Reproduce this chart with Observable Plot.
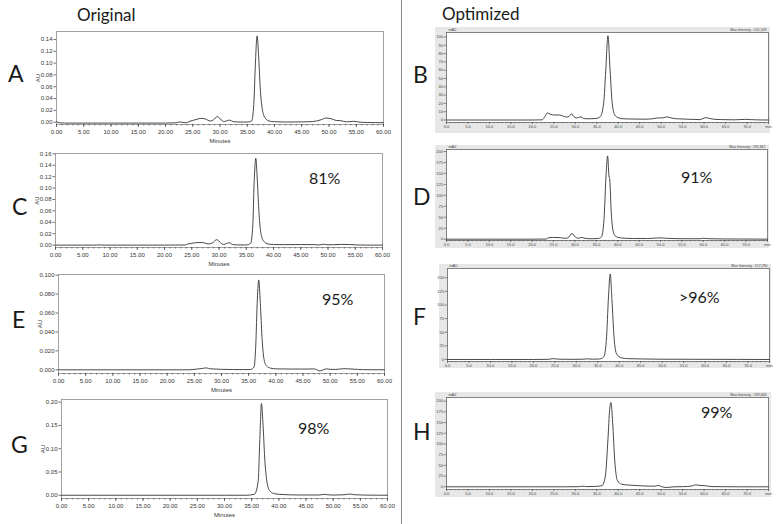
<!DOCTYPE html>
<html><head><meta charset="utf-8">
<script src="https://cdn.jsdelivr.net/npm/d3@7"></script>
<script src="https://cdn.jsdelivr.net/npm/@observablehq/plot@0.6"></script>
<style>
body{margin:0;background:#fff;}
#root{position:relative;width:780px;height:524px;overflow:hidden;background:#fff;}
#root svg{position:absolute;}
</style></head><body><div id="root"></div>
<script>
// ---- tick labels ----
const xTicksLeft = [0,5,10,15,20,25,30,35,40,45,50,55,60];
const xTicksRight = [0,5,10,15,20,25,30,35,40,45,50,55,60,65,70,75];
const xLabelsRight = ["0.0","5.0","10.0","15.0","20.0","25.0","30.0","35.0","40.0","45.0","50.0","55.0","60.0","65.0","70.0","min"];
const yTicksA = [0,0.02,0.04,0.06,0.08,0.10,0.12,0.14];
const yTicksC = [0,0.02,0.04,0.06,0.08,0.10,0.12,0.14,0.16];
const yTicksE = [0,0.02,0.04,0.06,0.08,0.10];
const yTicksG = [0,0.05,0.10,0.15,0.20];
const yTicksB = [0,10,20,30,40,50,60,70,80,90,100];
const yTicksD = [0,25,50,75,100,125,150,175,200];
const yTicksF = [0,25,50,75,100,125,150];
const yTicksH = [0,25,50,75,100,125,150,175,200];
const panelLetters = ["A","B","C","D","E","F","G","H"];
const purities = ["81%","91%","95%",">96%","98%","99%"];
const maxIntensity = ["Max Intensity : 101,549","Max Intensity : 192,667","Max Intensity : 157,290","Max Intensity : 199,606"];

// ---- traces (minutes, AU) : Original ----
const timeA = [0,0.5,1.5,5,10,15,20,22,22.6,23.2,23.8,24.3,25,25.8,26.5,27.3,28.2,28.8,29.5,30.2,30.8,31.3,31.8,32.4,33,34,35,35.8,36.2,36.5,36.8,37.1,37.4,37.8,38.3,39,40,42,45,47,48.5,49.5,50.5,51.3,52.2,53.2,54.5,55.5,57,60];
const auA   = [0.001,-0.001,-0.0015,-0.0015,-0.0015,-0.0015,-0.0015,-0.001,0.0005,-0.0005,-0.001,0.001,0.003,0.005,0.0065,0.0055,0.002,0.004,0.0095,0.004,0.001,0.0025,0.0035,0.001,0.0005,0.0002,0.0003,0.002,0.03,0.10,0.146,0.11,0.055,0.02,0.007,0.002,0.0008,0.0003,0.0005,0.001,0.004,0.007,0.0055,0.003,0.0025,0.0005,0.0015,0.0002,-0.0005,-0.0008];
const timeC = [0,5,7.5,8,8.5,10,15,20,23.8,24.3,25,26,27,28,28.8,29.6,30.3,30.9,31.4,31.9,32.5,33.5,35,35.8,36.2,36.45,36.75,37.05,37.35,37.7,38.2,39,40,42,45,47.5,48.3,49.2,50,51,52.5,54,55.5,57,60];
const auC   = [0,0,0,0.0005,0,0,0,0,0.0002,0.002,0.003,0.0045,0.0045,0.002,0.004,0.0095,0.004,0.001,0.003,0.004,0.001,0.0003,0.0003,0.003,0.035,0.11,0.152,0.11,0.055,0.02,0.007,0.002,0.001,0.0008,0.001,0.0008,0.0003,0.0015,0.0005,0.0008,0.0012,0.001,0.0002,0,0];
const timeE = [0,10,20,24,25.5,26.5,27.2,28,29,30,32,34,35.3,36.0,36.3,36.6,36.85,37.15,37.45,37.8,38.3,39,40,43,46,46.8,47.5,48.0,48.5,49.3,50,51,52.5,54,56,60];
const auE   = [0,0,0,0,0.0008,0.0015,0.002,0.001,0.0008,0.0005,0.0003,0.0002,0.0003,0.003,0.025,0.075,0.095,0.07,0.035,0.012,0.004,0.0018,0.001,0.0008,0.0008,0.001,0.0003,-0.0012,-0.0005,0.001,0.0005,0.0004,0.0012,0.0008,0.0002,0];
const timeG = [0,10,20,30,34,35.5,36.2,36.5,36.8,37.1,37.4,37.8,38.3,39,40,44,47.5,48.3,49,50,52,53,54,56,60];
const auG   = [0,0,0,0,0,0.002,0.03,0.12,0.197,0.15,0.08,0.03,0.01,0.004,0.002,0.0005,0.0005,0.002,0.001,0.0003,0.001,0.0025,0.001,0.0003,0];

// ---- traces (min, mAU) : Optimized ----
const timeB = [0,10,20,22.3,22.9,23.5,24.2,25.2,26.3,27.3,28.0,28.6,29.1,29.7,30.3,30.8,31.3,31.9,32.6,33.5,34.8,35.8,36.6,37.1,37.6,38.1,38.6,39.2,39.9,41,43,46,48,49.1,50.3,51.4,52.3,53.5,55,57,59,60.4,61.2,62.5,64,67,69.7,70.8,72,75];
const mauB  = [0,0,0,0.2,4,8.5,7,6,6,4.5,3.5,4.5,7.5,4,2.5,3,3.8,2,1.5,1.5,1.8,4,20,60,101.5,60,20,6,3,1.5,1.2,1,1.5,2.5,2.5,3.8,2.5,1.5,1.2,0.8,0.5,2.8,2,0.8,0.5,0.2,0.8,0.5,0.2,0];
const timeD = [0,10,20,23.3,23.9,24.8,26.6,27.4,28.3,29.3,30.1,30.8,31.6,32.4,34,35.4,36.2,36.8,37.3,37.65,37.95,38.15,38.5,38.9,39.5,40.6,43.7,47,49.9,51.4,54,57,59.2,60,61.5,65,70,75];
const mauD  = [0,0,0,0.3,3.5,4,3.5,2.2,2.5,13,5,2,4,2,1,1.5,5,45,150,190,145,135,60,20,7,3,1.5,1.5,3,2,1.2,1,1,2,1,0.5,0.3,0];
const timeF = [0,10,20,23.5,24.7,26,29,31.5,32.6,33.8,35.5,36.4,37.0,37.5,37.9,38.3,38.8,39.4,40.5,42,45,50,60,75];
const mauF  = [0,0,0,0.3,1.5,0.5,0.3,0.5,1.2,0.5,1,5,35,115,157,110,40,10,3,1.5,1,0.5,0.3,0];
const timeH = [0,10,20,28,30.8,31.7,32.6,34.5,36.2,37.0,37.6,38.0,38.3,38.7,39.2,39.8,40.8,42.5,45,47.5,48.6,49.3,50.1,50.9,51.8,53,55,57.2,58,58.8,60.7,61.6,64,68,75];
const mauH  = [0,0,0,0,0.3,1.5,0.5,0.8,2.5,25,110,180,197,150,60,15,6,4,2.5,1.5,1.5,3.2,0.5,-1.5,-1.2,0,0.3,2,4.5,3.5,2,0.5,0.3,0,0];

const root = document.getElementById("root");
const traceColor = "#333";

function rows(t, v) { return t.map((x, i) => ({t: x, v: v[i]})); }

function leftPanel(t, v, cfg) {
  const [pl, pr, pt, pb] = cfg.plot;
  const W = 400, top = pt - 12, bottom = pb + 26;
  const svg = Plot.plot({
    width: W, height: bottom - top,
    marginLeft: pl, marginRight: W - pr, marginTop: pt - top, marginBottom: bottom - pb,
    style: {fontFamily: "'Liberation Sans', Arial, sans-serif", fontSize: "6px", color: "#333", overflow: "visible", background: "transparent"},
    x: {domain: [0, 60]},
    y: {domain: cfg.yDomain},
    marks: [
      Plot.frame({stroke: "#8a8a8a", strokeWidth: 0.8}),
      Plot.axisX({ticks: d3.range(0, 61, 1), tickSize: 1.5, tickFormat: () => "", label: null, strokeWidth: 0.6}),
      Plot.axisX({ticks: xTicksLeft, tickSize: 3, tickPadding: 2, tickFormat: d => d.toFixed(2), label: null, fontSize: 6, strokeWidth: 0.7}),
      Plot.axisY({ticks: cfg.yTicks, tickSize: 2.5, tickPadding: 1.5, tickFormat: d => d.toFixed(cfg.dec), label: null, fontSize: 6, strokeWidth: 0.7}),
      Plot.text(["Minutes"], {text: d => d, frameAnchor: "bottom", dy: 17, fontSize: 6, lineAnchor: "middle", textAnchor: "middle"}),
      Plot.text(["AU"], {text: d => d, frameAnchor: "left", dx: -18, rotate: -90, fontSize: 6, lineAnchor: "middle", textAnchor: "middle"}),
      Plot.line(rows(t, v), {x: "t", y: "v", stroke: traceColor, strokeWidth: 0.9, curve: "monotone-x"})
    ]
  });
  svg.style.left = "0px"; svg.style.top = top + "px";
  root.appendChild(svg);
}

function rightPanel(t, v, cfg) {
  const [gl, gr, gt, gb] = cfg.gray;
  const [pl, pr, pt, pb] = cfg.plot;
  const svg = Plot.plot({
    width: gr - gl, height: gb - gt,
    marginLeft: pl - gl, marginRight: gr - pr, marginTop: pt - gt, marginBottom: gb - pb,
    style: {fontFamily: "'Liberation Sans', Arial, sans-serif", fontSize: "4px", color: "#444", overflow: "visible", background: "#e7e7e7"},
    x: {domain: [0, 75]},
    y: {domain: cfg.yDomain},
    marks: [
      Plot.frame({fill: "white", stroke: "#666", strokeWidth: 0.8}),
      Plot.axisX({ticks: d3.range(0, 76, 1), tickSize: 1.2, tickFormat: () => "", label: null, strokeWidth: 0.5}),
      Plot.axisX({ticks: xTicksRight, tickSize: 2, tickPadding: 1, tickFormat: d => xLabelsRight[xTicksRight.indexOf(d)], label: null, fontSize: 4, strokeWidth: 0.6}),
      Plot.axisY({ticks: cfg.yTicks, tickSize: 2.5, tickPadding: 1, tickFormat: d => String(d), label: null, fontSize: 4, strokeWidth: 0.6}),
      Plot.text(["mAU"], {text: d => d, frameAnchor: "top-left", dx: 2, dy: -2.5, fontSize: 3.5, textAnchor: "start", lineAnchor: "middle"}),
      Plot.text([cfg.max], {text: d => d, frameAnchor: "top-right", dx: -2, dy: -2.5, fontSize: 3.5, textAnchor: "end", lineAnchor: "middle"}),
      Plot.line(rows(t, v), {x: "t", y: "v", stroke: traceColor, strokeWidth: 0.9, curve: "monotone-x"})
    ]
  });
  svg.style.left = gl + "px"; svg.style.top = gt + "px";
  root.appendChild(svg);
}

leftPanel(timeA, auA, {plot: [56, 383, 31, 124], yDomain: [-0.0039, 0.1535], yTicks: yTicksA, dec: 2});
leftPanel(timeC, auC, {plot: [55, 382, 153, 247], yDomain: [-0.0042, 0.1606], yTicks: yTicksC, dec: 2});
leftPanel(timeE, auE, {plot: [58, 384, 274, 373], yDomain: [-0.0039, 0.1007], yTicks: yTicksE, dec: 3});
leftPanel(timeG, auG, {plot: [61, 387, 399, 498], yDomain: [-0.007, 0.2058], yTicks: yTicksG, dec: 2});

rightPanel(timeB, mauB, {gray: [435, 770, 27, 133], plot: [446, 768, 32, 122], yDomain: [-3.0, 105.4], yTicks: yTicksB, max: maxIntensity[0]});
rightPanel(timeD, mauD, {gray: [435, 769, 145, 248], plot: [446, 767, 149, 240], yDomain: [-3.0, 204.6], yTicks: yTicksD, max: maxIntensity[1]});
rightPanel(timeF, mauF, {gray: [439, 771, 264, 368], plot: [447, 769, 268, 361], yDomain: [-3.7, 167], yTicks: yTicksF, max: maxIntensity[2]});
rightPanel(timeH, mauH, {gray: [435, 771, 392, 497], plot: [446, 768, 397, 489], yDomain: [-6.3, 208.6], yTicks: yTicksH, max: maxIntensity[3]});

// ---- overlay: titles, panel letters, purities, divider ----
const ns = "http://www.w3.org/2000/svg";
const ov = document.createElementNS(ns, "svg");
ov.setAttribute("width", 780); ov.setAttribute("height", 524);
ov.style.left = "0px"; ov.style.top = "0px";
function txt(s, x, y, size) {
  const e = document.createElementNS(ns, "text");
  e.setAttribute("x", x); e.setAttribute("y", y);
  e.setAttribute("font-size", size);
  e.setAttribute("font-family", "Lato, 'Open Sans', sans-serif");
  e.setAttribute("fill", "#1a1a1a");
  e.textContent = s; ov.appendChild(e);
}
const line = document.createElementNS(ns, "line");
line.setAttribute("x1", 401.5); line.setAttribute("x2", 401.5);
line.setAttribute("y1", 0); line.setAttribute("y2", 524);
line.setAttribute("stroke", "#8c8c8c"); line.setAttribute("stroke-width", 1);
ov.appendChild(line);
txt("Original", 77, 21, 17);
txt("Optimized", 442, 19.5, 17);
const letterPos = [[8, 82], [413, 83], [12, 215], [413, 205], [12, 328], [413, 325], [11, 453], [413, 440]];
panelLetters.forEach((s, i) => txt(s, letterPos[i][0], letterPos[i][1], 23));
const purityPos = [[309, 184], [681, 183], [322, 305], [679, 303], [298, 434], [701, 418]];
purities.forEach((s, i) => txt(s, purityPos[i][0], purityPos[i][1], 16));
root.appendChild(ov);
</script>
</body></html>
